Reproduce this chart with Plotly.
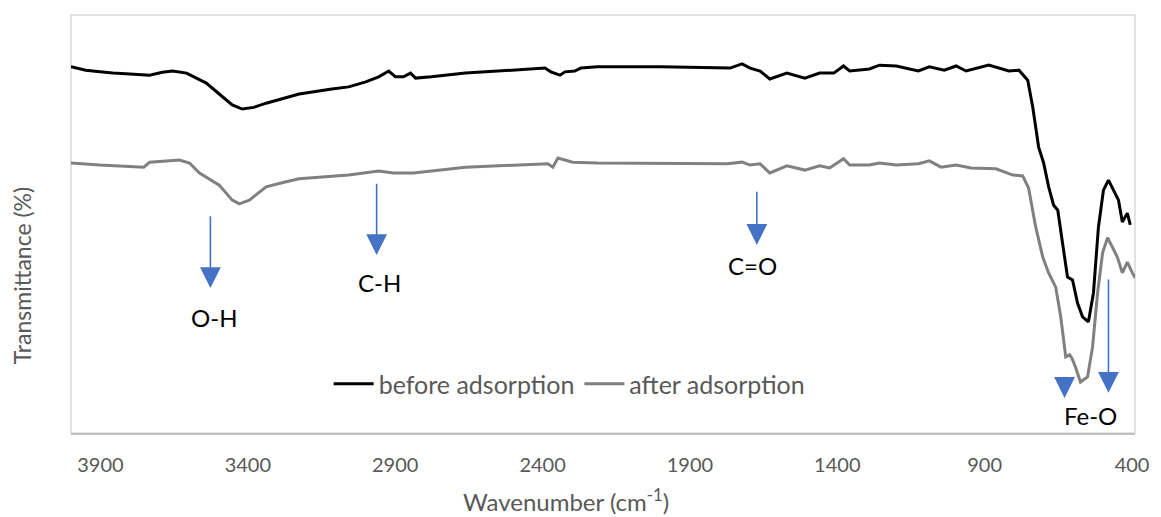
import plotly.graph_objects as go

# ---- data ----
before_wn = [4000, 3950, 3902, 3858, 3800, 3733, 3690, 3655, 3608, 3541, 3497, 3453, 3419,
             3380, 3338, 3226, 3115, 3058, 3000, 2956, 2922, 2899, 2872, 2848, 2831, 2777,
             2662, 2551, 2392, 2372, 2341, 2324, 2291, 2270, 2213, 2000, 1800, 1764, 1723,
             1696, 1662, 1629, 1571, 1510, 1460, 1412, 1379, 1358, 1291, 1257, 1200, 1125,
             1088, 1037, 997, 963, 886, 818, 784, 754, 737, 717, 700, 683, 666, 652, 636,
             619, 602, 585, 568, 548, 531, 514, 497, 480, 463, 446, 433, 416, 406]
before_T = [87.6, 86.8, 86.4, 86.1, 85.9, 85.6, 86.3, 86.6, 86.1, 83.7, 81.1, 78.5, 77.5,
            77.9, 78.9, 81.1, 82.3, 82.8, 84.0, 85.2, 86.6, 85.2, 85.2, 86.1, 84.9, 85.2,
            86.1, 86.6, 87.3, 86.4, 85.6, 86.4, 86.6, 87.3, 87.6, 87.6, 87.4, 87.3, 88.3,
            87.3, 86.6, 84.7, 86.1, 84.9, 86.1, 86.1, 87.8, 86.6, 87.1, 88.0, 87.8, 86.6,
            87.6, 86.8, 87.8, 86.6, 88.0, 86.6, 86.8, 84.4, 78.0, 68.4, 64.6, 58.9, 54.5,
            53.3, 45.5, 37.3, 36.6, 31.1, 27.8, 26.6, 33.5, 49.3, 58.1, 60.5, 58.1, 55.7,
            50.5, 52.6, 49.8]

after_wn = [4000, 3902, 3753, 3733, 3632, 3598, 3564, 3497, 3453, 3429, 3395, 3338, 3277,
            3226, 3058, 2956, 2906, 2838, 2662, 2382, 2365, 2348, 2298, 2213, 1774, 1723,
            1696, 1662, 1629, 1571, 1510, 1460, 1426, 1379, 1358, 1291, 1257, 1200, 1125,
            1088, 1048, 997, 946, 862, 804, 771, 751, 727, 703, 683, 659, 642, 625, 612,
            604, 592, 575, 551, 534, 517, 500, 483, 467, 450, 433, 416, 399, 389]
after_T = [64.6, 64.1, 63.6, 64.8, 65.3, 64.6, 62.2, 59.3, 55.7, 54.8, 55.7, 58.9, 60.0,
           60.8, 61.7, 62.7, 62.2, 62.2, 63.6, 64.4, 63.6, 65.8, 64.8, 64.6, 64.4, 64.8,
           64.1, 64.4, 62.2, 63.9, 62.9, 63.9, 63.4, 65.6, 64.1, 64.1, 64.6, 64.1, 64.4,
           65.1, 63.6, 64.1, 63.4, 63.2, 61.7, 61.5, 58.6, 49.3, 42.1, 38.3, 34.9, 27.8,
           18.2, 18.7, 17.9, 15.8, 12.2, 13.4, 20.6, 33.5, 43.1, 46.7, 44.5, 42.1, 38.3,
           40.9, 38.3, 37.1]

tick_vals = [3900, 3400, 2900, 2400, 1900, 1400, 900, 400]

# band labels: text, label position, arrow tail/tip positions (wavenumber, T)
band_labels = ["O-H", "C-H", "C=O", "Fe-O"]
label_wn = [3514, 2953, 1689, 541]
label_T = [27.7, 36.1, 40.0, 4.3]
arrow_wn = [3527, 2963, 1673, 629, 480]
arrow_tail_T = [52.2, 60.0, 58.1, 13.4, 37.1]
arrow_tip_T = [34.7, 42.6, 45.0, 8.4, 9.6]

FONT = "Lato, Carlito, Calibri, 'Open Sans', sans-serif"
ARROW_COLOR = "#4472C4"

fig = go.Figure()
fig.add_trace(go.Scatter(x=before_wn, y=before_T, mode="lines", name="before adsorption",
                         line=dict(color="#000000", width=3)))
fig.add_trace(go.Scatter(x=after_wn, y=after_T, mode="lines", name="after adsorption",
                         line=dict(color="#808080", width=3)))

annotations = []
for wn, t0, t1 in zip(arrow_wn, arrow_tail_T, arrow_tip_T):
    annotations.append(dict(x=wn, y=t1, ax=wn, ay=t0, xref="x", yref="y", axref="x", ayref="y",
                            text="", showarrow=True, arrowhead=2, arrowsize=2.6,
                            arrowwidth=1.6, arrowcolor=ARROW_COLOR, standoff=0))
for txt, wn, t in zip(band_labels, label_wn, label_T):
    annotations.append(dict(x=wn, y=t, xref="x", yref="y", text=txt, showarrow=False,
                            font=dict(family=FONT, size=24, color="#000000")))

W, H = 1161, 517
ml, mr, mt, mb = 71, 21, 15, 84
pw, ph = W - ml - mr, H - mt - mb

def px_to_paper(px, py):
    return (px - ml) / pw, (H - mb - py) / ph

tx, ty = px_to_paper(568, 500)
annotations.append(dict(x=tx, y=ty, xref="paper", yref="paper", xanchor="center", yanchor="middle",
                        text="Wavenumber (cm<sup>-1</sup>)", showarrow=False,
                        font=dict(family=FONT, size=24, color="#595959")))
yx, yy = px_to_paper(22, 276)
annotations.append(dict(x=yx, y=yy, xref="paper", yref="paper", xanchor="center", yanchor="middle",
                        text="Transmittance (%)", textangle=-90, showarrow=False,
                        font=dict(family=FONT, size=23, color="#595959")))

lx, ly = px_to_paper(572, 384)
fig.update_layout(
    width=W, height=H,
    margin=dict(l=ml, r=mr, t=mt, b=mb),
    paper_bgcolor="white", plot_bgcolor="white",
    font=dict(family=FONT, color="#595959"),
    showlegend=True,
    legend=dict(orientation="h", x=lx, y=ly, xanchor="center", yanchor="middle",
                font=dict(family=FONT, size=25, color="#595959"), bgcolor="rgba(0,0,0,0)",
                itemwidth=40, tracegroupgap=0),
    annotations=annotations,
    shapes=[dict(type="rect", xref="paper", yref="paper", x0=0, x1=1, y0=0, y1=1,
                 line=dict(color="#d9d9d9", width=1.5), layer="below")],
)
fig.update_xaxes(range=[4000, 390], tickvals=tick_vals, ticks="", showgrid=False, zeroline=False,
                 showline=True, linecolor="#bfbfbf", linewidth=1.5,
                 tickfont=dict(family=FONT, size=20, color="#595959"), ticklabelstandoff=13)
fig.update_yaxes(range=[0, 100], showticklabels=False, showgrid=False, zeroline=False, ticks="")

fig.write_html("out.html")
